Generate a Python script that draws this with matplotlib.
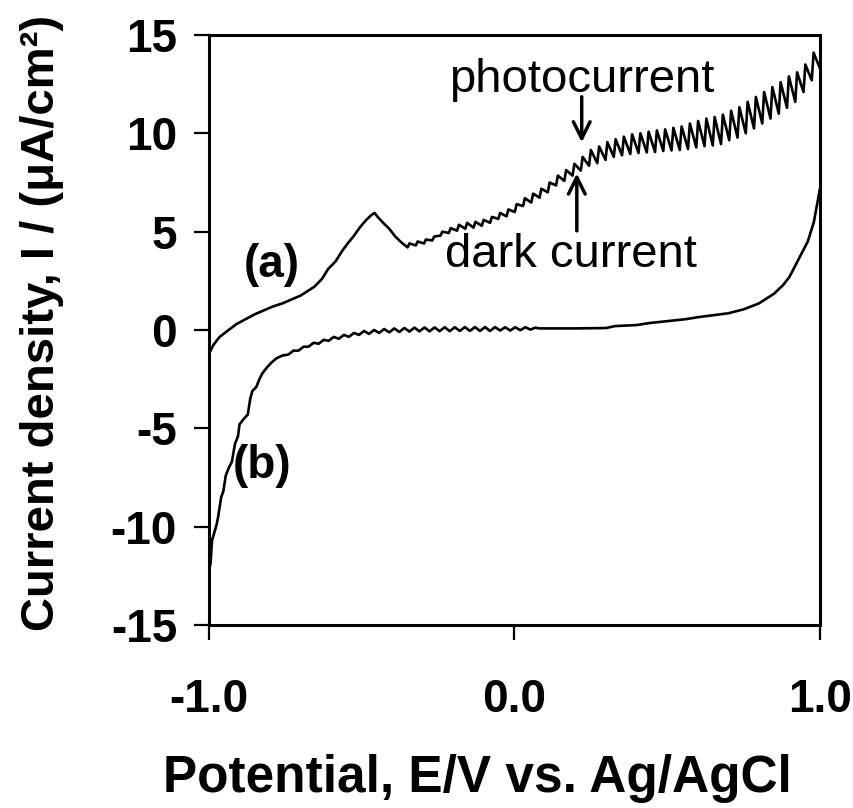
import numpy as np
import matplotlib
matplotlib.use("Agg")
import matplotlib.pyplot as plt

plt.rcParams['font.family'] = ['Liberation Sans', 'DejaVu Sans']
plt.rcParams['axes.unicode_minus'] = False

# curve (a) - photocurrent, smooth part before the chopping ripple
a_x = [-1.0, -0.985, -0.965, -0.94, -0.91, -0.88, -0.85, -0.82, -0.79, -0.76, -0.73,
       -0.70, -0.675, -0.655, -0.63, -0.61, -0.585, -0.565, -0.546, -0.525, -0.507,
       -0.485, -0.468, -0.458, -0.445, -0.43, -0.41, -0.39, -0.37]
a_y = [-1.2, -0.75, -0.35, -0.05, 0.3, 0.55, 0.8, 1.0, 1.2, 1.35, 1.55,
       1.75, 2.0, 2.2, 2.6, 3.1, 3.5, 4.0, 4.4, 4.8, 5.2,
       5.6, 5.85, 5.95, 5.7, 5.45, 5.15, 4.75, 4.45]

# chopped light part of (a): trough / peak values
chop_x = [-0.350, -0.323, -0.296, -0.269, -0.242, -0.215, -0.188, -0.161, -0.134, -0.107,
          -0.080, -0.053, -0.026, 0.001, 0.028, 0.055, 0.082, 0.109, 0.136, 0.163,
          0.190, 0.217, 0.244, 0.271, 0.298, 0.325, 0.352, 0.379, 0.406, 0.433,
          0.460, 0.487, 0.514, 0.541, 0.568, 0.595, 0.622, 0.649, 0.676, 0.703,
          0.730, 0.757, 0.784, 0.811, 0.838, 0.865, 0.892, 0.919, 0.946, 0.973, 1.000]
chop_lo = [4.2, 4.3, 4.4, 4.55, 4.8, 4.93, 5.05, 5.15, 5.2, 5.3,
           5.45, 5.65, 5.78, 6.0, 6.3, 6.48, 6.73, 7.0, 7.35, 7.58,
           7.85, 8.1, 8.35, 8.48, 8.65, 8.8, 8.88, 8.95, 9.0, 9.03,
           9.05, 9.1, 9.13, 9.15, 9.2, 9.28, 9.35, 9.38, 9.45, 9.65,
           9.78, 10.0, 10.25, 10.5, 10.75, 11.0, 11.3, 11.6, 12.1, 12.7, 13.3]
chop_hi = [4.4, 4.5, 4.6, 4.75, 5.0, 5.18, 5.35, 5.45, 5.5, 5.6,
           5.75, 5.95, 6.13, 6.4, 6.7, 6.93, 7.18, 7.5, 7.85, 8.13,
           8.45, 8.8, 9.15, 9.33, 9.55, 9.7, 9.83, 9.95, 10.0, 10.08,
           10.15, 10.2, 10.28, 10.35, 10.5, 10.63, 10.75, 10.83, 10.95, 11.15,
           11.33, 11.6, 11.85, 12.1, 12.35, 12.6, 12.9, 13.1, 13.5, 14.1, 14.7]

# curve (b) - dark current
b_x = [-1.0, -0.995, -0.99, -0.975, -0.97, -0.96, -0.953, -0.945, -0.935, -0.925,
       -0.915, -0.905, -0.9, -0.885, -0.873, -0.865, -0.858, -0.845, -0.835, -0.825,
       -0.81, -0.795, -0.78, -0.76]
b_y = [-12.2, -11.9, -10.7, -9.9, -9.5, -8.5, -8.2, -7.4, -7.0, -6.7,
       -5.8, -5.4, -4.8, -4.5, -4.3, -3.5, -3.1, -2.9, -2.5, -2.2,
       -1.9, -1.65, -1.45, -1.3]
b_wig_x = [-0.740, -0.707, -0.674, -0.641, -0.608, -0.575, -0.542, -0.509, -0.476, -0.443,
           -0.410, -0.377, -0.344, -0.311, -0.278, -0.245, -0.212, -0.179, -0.146, -0.113,
           -0.080, -0.047, -0.014, 0.019, 0.052]
b_lo = [-1.25, -1.05, -0.85, -0.7, -0.55, -0.45, -0.35, -0.25, -0.2, -0.15,
        -0.12, -0.1, -0.08, -0.07, -0.07, -0.06, -0.06, -0.05, -0.05, -0.05,
        -0.05, -0.03, -0.03, -0.01, 0.02]
b_hi = [-1.05, -0.85, -0.65, -0.5, -0.35, -0.25, -0.15, -0.05, 0.0, 0.05,
        0.08, 0.1, 0.12, 0.13, 0.13, 0.14, 0.14, 0.15, 0.15, 0.15,
        0.15, 0.14, 0.14, 0.14, 0.12]
b_tail_x = [0.08, 0.2, 0.3, 0.33, 0.4, 0.44, 0.5, 0.56, 0.6, 0.65, 0.7, 0.75, 0.8,
            0.85, 0.88, 0.9, 0.93, 0.96, 0.98, 1.0]
b_tail_y = [0.08, 0.08, 0.1, 0.2, 0.25, 0.35, 0.45, 0.55, 0.65, 0.75, 0.85, 1.05, 1.35,
            1.85, 2.3, 2.7, 3.6, 4.5, 5.5, 7.2]

x_ticks = [-1.0, 0.0, 1.0]
y_ticks = [-15, -10, -5, 0, 5, 10, 15]


def ripple(xs, lo, hi, rise):
    # trough at x, peak a short step later (steep rise, slow decay)
    xs = np.asarray(xs)
    xx = np.column_stack([xs, xs + rise]).ravel()
    yy = np.column_stack([lo, hi]).ravel()
    return xx, yy


fig = plt.figure(figsize=(8.54, 8.08), dpi=100)
ax = fig.add_axes([0.2447, 0.2265, 0.7155, 0.7302])

rx, ry = ripple(chop_x, chop_lo, chop_hi, 0.006)
ax.plot(np.concatenate([a_x, rx]), np.concatenate([a_y, ry]), color='black', lw=1.9)

wx, wy = ripple(b_wig_x, b_lo, b_hi, 0.0165)
ax.plot(np.concatenate([b_x, wx, b_tail_x]), np.concatenate([b_y, wy, b_tail_y]),
        color='black', lw=1.9)

ax.set_xlim(-1.0, 1.0)
ax.set_ylim(-15, 15)
ax.set_xticks(x_ticks)
ax.set_yticks(y_ticks)
ax.set_xticklabels(['%.1f' % v for v in x_ticks])
ax.set_yticklabels(['%d' % v for v in y_ticks])
ax.tick_params(axis='both', direction='out', length=11, width=1.6, labelsize=33)
ax.tick_params(axis='x', pad=27)
ax.tick_params(axis='y', pad=12)
for lab in ax.get_xticklabels() + ax.get_yticklabels():
    lab.set_fontweight('bold')
for sp in ax.spines.values():
    sp.set_linewidth(2.2)

ax.text(-0.794, 3.3, '(a)', fontsize=33, fontweight='bold', ha='center', va='center')
ax.text(-0.827, -6.9, '(b)', fontsize=33, fontweight='bold', ha='center', va='center')
ax.text(0.22, 12.7, 'photocurrent', fontsize=34, ha='center', va='center')
ax.text(0.184, 3.8, 'dark current', fontsize=34, ha='center', va='center')
ax.annotate('', xy=(0.22, 9.4), xytext=(0.22, 12.0),
            arrowprops=dict(arrowstyle='->', lw=2.5, color='black', mutation_scale=30))
ax.annotate('', xy=(0.204, 8.1), xytext=(0.204, 4.9),
            arrowprops=dict(arrowstyle='->', lw=2.5, color='black', mutation_scale=30))

fig.text(0.049, 0.60, 'Current density, I / (μA/cm²)', rotation=90, fontsize=34,
         fontweight='bold', ha='center', va='center')
fig.text(0.559, 0.037, 'Potential, E/V vs. Ag/AgCl', fontsize=37, fontweight='bold',
         ha='center', va='center')

fig.savefig('out.png', dpi=100)
